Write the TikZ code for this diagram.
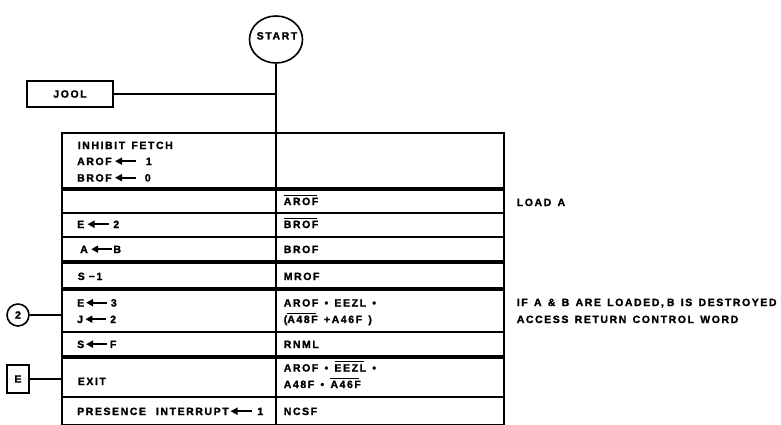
\documentclass[tikz,border=0pt]{standalone}
\usepackage{fontspec}
\setmainfont{Liberation Sans}[LetterSpace=15,WordSpace=1.4,BoldFeatures={FakeBold=1.6}]
\usetikzlibrary{arrows.meta,shapes.geometric}
\newcommand\larr{\tikz[baseline=0pt]\draw[line width=1.7pt,-{Triangle[length=7pt,width=7pt]}] (21pt,3.8pt) -- (0pt,3.8pt);}
\newcommand\ovl[1]{{\setbox0=\hbox{#1}\rlap{\raisebox{\dimexpr\ht0+1.8pt\relax}{\rule{\dimexpr\wd0-1.6pt\relax}{1.2pt}}}\box0}}
\begin{document}
\begin{tikzpicture}[x=1pt,y=-1pt,line width=1.6pt,
  txt/.style={anchor=base west,inner sep=0pt,font=\bfseries\fontsize{10.5}{12}\selectfont},
  box/.style={draw,inner sep=0pt,font=\bfseries\fontsize{10.5}{12}\selectfont},
  rowline/.style={line width=1.6pt},
  heavyline/.style={line width=3.6pt}]
\useasboundingbox (0,0) rectangle (781,425);
% start
\node[draw,ellipse,minimum width=53pt,minimum height=47pt,inner sep=0pt] (start) at (276,39.5) {};
\node[txt,anchor=base] (starttxt) at (277,39.5) {START};
% jool
\node[box,minimum width=86pt,minimum height=26pt] (jool) at (70,94) {JOOL};
% table
\node[draw,minimum width=442pt,minimum height=292pt,inner sep=0pt,anchor=north west] (tbl) at (61,132) {};
\draw (start.south) -- (start.south |- tbl.north);
\draw (jool.east) -- (jool.east -| start.south);
\draw (tbl.north -| start.south) -- (tbl.south -| start.south);
\foreach \yy in {213,237,332,397} \draw[rowline] (tbl.west |- 0,\yy) -- (tbl.east |- 0,\yy);
\foreach \yy in {189,262,289,357} \draw[heavyline] (tbl.west |- 0,\yy) -- (tbl.east |- 0,\yy);
% side connectors
\node[box,circle,minimum size=22pt] (two) at (18,315) {2};
\node[box,minimum width=22pt,minimum height=28pt] (ebox) at (18,379) {E};
\draw (two.east) -- (two.east -| tbl.west);
\draw (ebox.east) -- (ebox.east -| tbl.west);
% left column
\node[txt] (l1a) at (77,149) {INHIBIT FETCH};
\node[txt] (l1b) at (77,165) {AROF\hspace{2.5pt}\larr\hspace{9pt}1};
\node[txt] (l1c) at (77,181.5) {BROF\hspace{2.5pt}\larr\hspace{8pt}0};
\node[txt] (l3) at (77,228) {E\hspace{2.5pt}\larr\hspace{4pt}2};
\node[txt] (l4) at (80,253) {A\hspace{2.5pt}\larr\hspace{0.5pt}B};
\node[txt] (l5) at (77,280) {S\hspace{4pt}−1};
\node[txt] (l6a) at (77,306.5) {E\hspace{1pt}\larr\hspace{3pt}3};
\node[txt] (l6b) at (77,323) {J\hspace{1.5pt}\larr\hspace{3pt}2};
\node[txt] (l7) at (77,348) {S\hspace{1pt}\larr\hspace{2pt}F};
\node[txt] (l8) at (77,385) {EXIT};
\node[txt] (l9) at (77,415) {PRESENCE\hspace{10pt}INTERRUPT\hspace{1pt}\larr\hspace{5pt}1};
% right column
\node[txt] (r2) at (283,205) {\ovl{AROF}};
\node[txt] (r3) at (283,228) {\ovl{BROF}};
\node[txt] (r4) at (283,253) {BROF};
\node[txt] (r5) at (283,280) {MROF};
\node[txt] (r6a) at (283,306.5) {AROF • EEZL •};
\node[txt] (r6b) at (283,323) {(\ovl{A48F} +A46F )};
\node[txt] (r7) at (283,348) {RNML};
\node[txt] (r8a) at (283,371.5) {AROF • \ovl{EEZL} •};
\node[txt] (r8b) at (283,388) {A48F • \ovl{A46F}};
\node[txt] (r9) at (283,415) {NCSF};
% annotations
\node[txt] (n1) at (516,206) {LOAD A};
\node[txt] (n2) at (516,306) {IF A \& B ARE LOADED,\hspace{3pt}B IS DESTROYED};
\node[txt] (n3) at (516,323) {ACCESS RETURN CONTROL WORD};
\end{tikzpicture}
\end{document}
